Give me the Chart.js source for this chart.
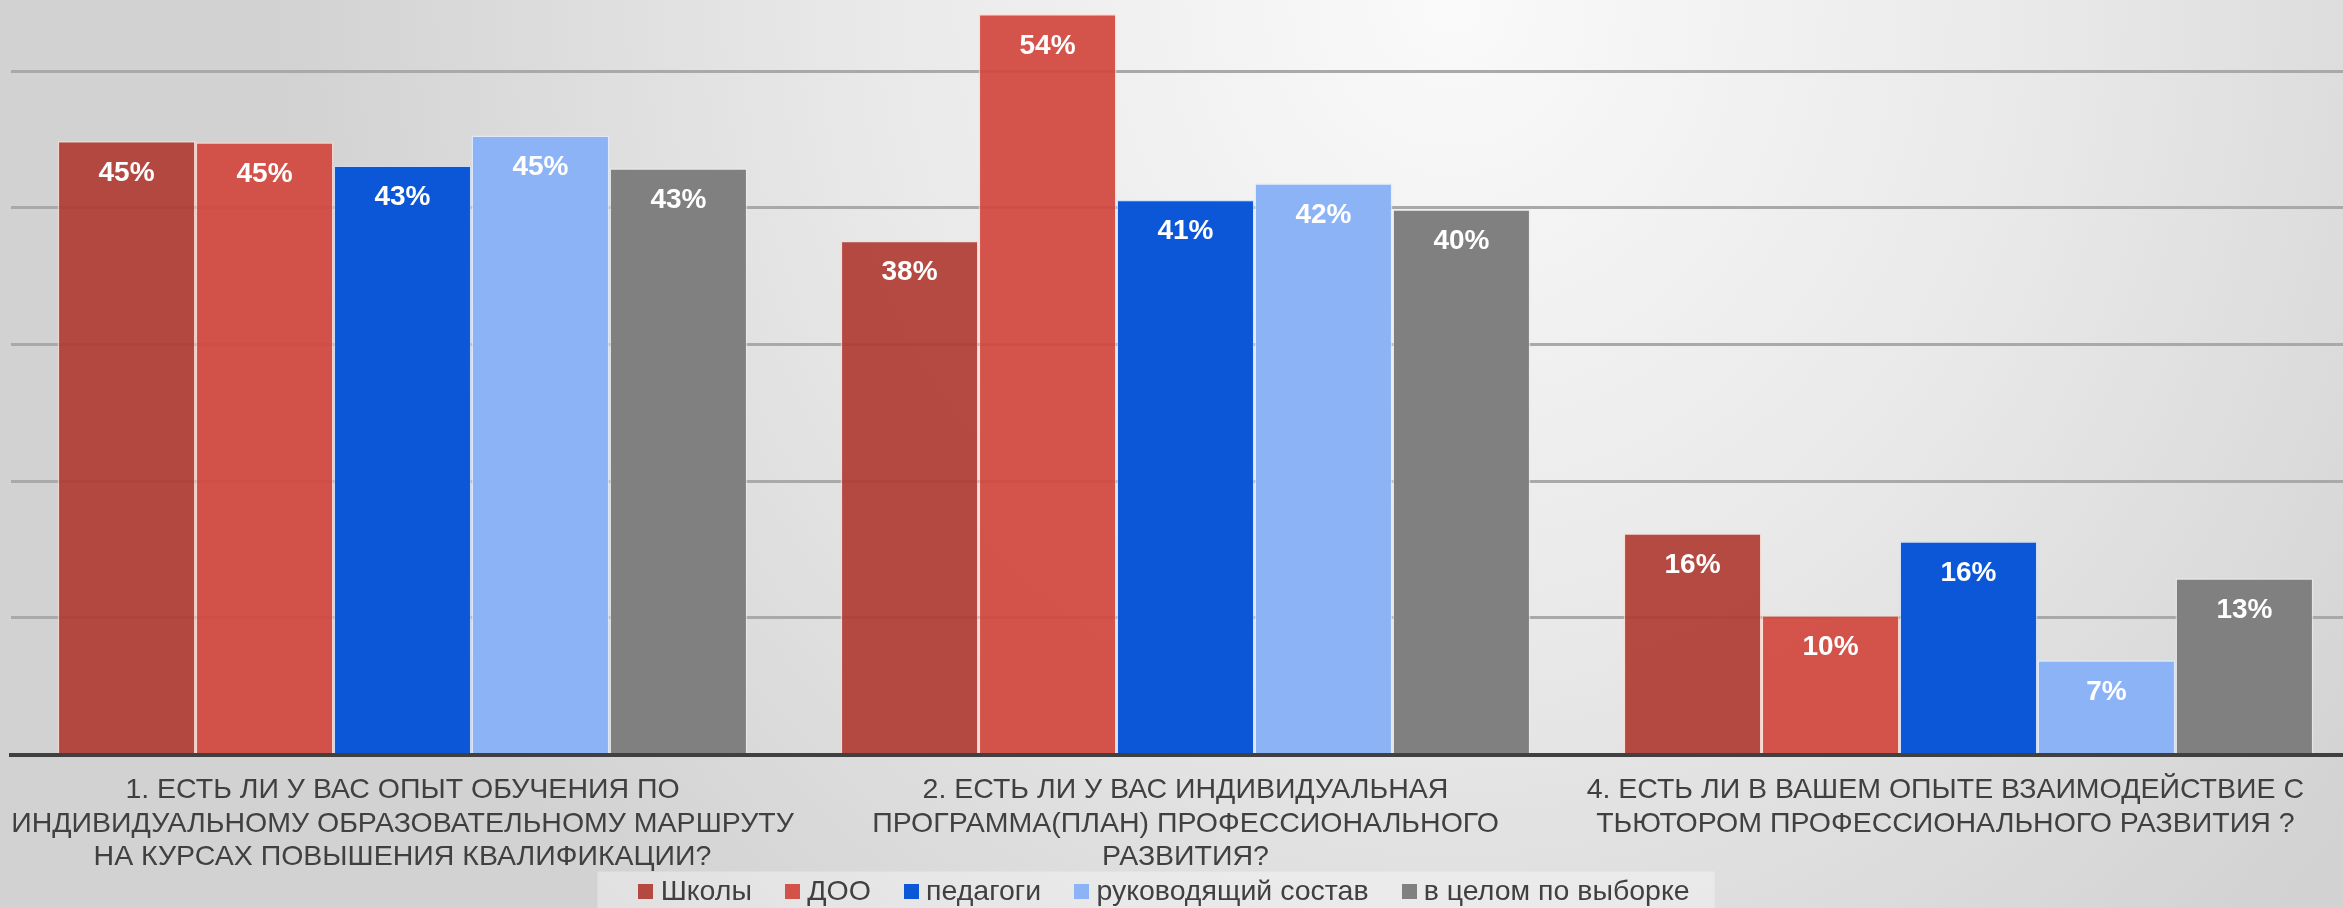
<!DOCTYPE html>
<html lang="ru">
<head>
<meta charset="utf-8">
<script src="https://cdn.jsdelivr.net/npm/chart.js@4.4.1/dist/chart.umd.min.js"></script>
<style>
  html, body { margin: 0; padding: 0; overflow: hidden; }
  body {
    width: 2343px; height: 908px;
    background: radial-gradient(ellipse 50% 140% at 62% 0%, #fafafa 0%, #e9e9e9 50%, #d2d2d2 100%);
  }
  #wrap { position: absolute; left: 0; top: 0; }
</style>
</head>
<body>
<div id="wrap"><canvas id="grafico" width="2362" height="908"></canvas></div>
<script>
// Вопросы анкеты (подписи категорий)
const categorias = [
    ['1. ЕСТЬ ЛИ У ВАС ОПЫТ ОБУЧЕНИЯ ПО', 'ИНДИВИДУАЛЬНОМУ ОБРАЗОВАТЕЛЬНОМУ МАРШРУТУ', 'НА КУРСАХ ПОВЫШЕНИЯ КВАЛИФИКАЦИИ?'],
    ['2. ЕСТЬ ЛИ У ВАС ИНДИВИДУАЛЬНАЯ', 'ПРОГРАММА(ПЛАН) ПРОФЕССИОНАЛЬНОГО', 'РАЗВИТИЯ?'],
    ['4. ЕСТЬ ЛИ В ВАШЕМ ОПЫТЕ ВЗАИМОДЕЙСТВИЕ С', 'ТЬЮТОРОМ ПРОФЕССИОНАЛЬНОГО РАЗВИТИЯ ?']
];

// Доли ответов, % (оценка по картинке)
const shkoly      = [44.9, 37.6, 16.2];
const doo         = [44.8, 54.2, 10.2];
const pedagogi    = [43.1, 40.6, 15.6];
const rukovod     = [45.3, 41.8, 6.9];
const vCelom      = [42.9, 39.9, 12.9];

const nomesSeries = ['Школы', 'ДОО', 'педагоги', 'руководящий состав', 'в целом по выборке'];
const valoresSeries = [shkoly, doo, pedagogi, rukovod, vCelom];

const cores = [
    'rgba(176, 60, 52, 0.92)',   // Школы
    'rgba(210, 72, 64, 0.93)',   // ДОО
    'rgb(11, 87, 216)',          // педагоги
    'rgb(141, 179, 247)',        // руководящий состав
    'rgb(128, 128, 128)'         // в целом
];
const coresBorda = [
    'rgba(255, 215, 205, 0.7)',
    'rgba(255, 215, 205, 0.7)',
    'rgba(200, 220, 255, 0.7)',
    'rgba(225, 235, 255, 0.8)',
    'rgba(235, 235, 235, 0.7)'
];

const fonte = "'Liberation Sans', Arial, sans-serif";
Chart.defaults.font.family = fonte;

// Маленький квадрат-маркер для легенды
function marcador(cor) {
    const c = document.createElement('canvas');
    c.width = 15; c.height = 15;
    const g = c.getContext('2d');
    g.fillStyle = cor;
    g.fillRect(0, 0, 15, 15);
    return c;
}

// Подписи значений внутри столбцов
const rotulosPlugin = {
    id: 'rotulos',
    afterDatasetsDraw(chart) {
        const ctx = chart.ctx;
        ctx.save();
        ctx.font = 'bold 28px ' + fonte;
        ctx.fillStyle = '#ffffff';
        ctx.textAlign = 'center';
        ctx.textBaseline = 'middle';
        chart.data.datasets.forEach((ds, i) => {
            chart.getDatasetMeta(i).data.forEach((bar, j) => {
                ctx.fillText(Math.round(ds.data[j]) + '%', bar.x, bar.y + 32);
            });
        });
        ctx.restore();
    }
};

// Подписи категорий под осью: по центру группы, но не вылезая за правый край окна
const categoriasPlugin = {
    id: 'categoriasTexto',
    afterDraw(chart) {
        const ctx = chart.ctx;
        const escala = chart.scales.x;
        const margemDir = 2343 - 39;
        ctx.save();
        ctx.font = '28.5px ' + fonte;
        ctx.fillStyle = '#404040';
        ctx.textAlign = 'center';
        ctx.textBaseline = 'middle';
        chart.data.labels.forEach((linhas, i) => {
            let x = escala.getPixelForTick(i);
            const larg = Math.max(...linhas.map(l => ctx.measureText(l).width));
            if (x + larg / 2 > margemDir) x = margemDir - larg / 2;
            linhas.forEach((linha, k) => {
                ctx.fillText(linha, x, chart.chartArea.bottom + 36 + k * 33.5);
            });
        });
        ctx.restore();
    }
};

// Легенда чуть левее центра холста (холст шире окна)
const ajusteLegenda = {
    id: 'ajusteLegenda',
    afterLayout(chart) {
        if (!chart.legend) return;
        chart.legend.left -= 18;
        chart.legend.right -= 18;
    }
};

// Светлая подложка под легендой
const fundoLegenda = {
    id: 'fundoLegenda',
    beforeDraw(chart) {
        const lg = chart.legend;
        if (!lg || !lg.legendHitBoxes || !lg.legendHitBoxes.length) return;
        const boxes = lg.legendHitBoxes;
        const esq = Math.min(...boxes.map(b => b.left)) - 48;
        const dir = Math.max(...boxes.map(b => b.left + b.width)) + 25;
        const topo = boxes[0].top - 6;
        const ctx = chart.ctx;
        ctx.save();
        ctx.fillStyle = 'rgba(255, 255, 255, 0.35)';
        ctx.fillRect(esq, topo, dir - esq, chart.height - topo);
        ctx.restore();
    }
};

const datasets = nomesSeries.map((nome, i) => ({
    label: nome,
    data: valoresSeries[i],
    backgroundColor: cores[i],
    borderColor: coresBorda[i],
    borderWidth: 1.5,
    borderSkipped: 'start',
    barPercentage: 1.0,
    categoryPercentage: 0.881
}));

new Chart(document.getElementById('grafico').getContext('2d'), {
    type: 'bar',
    data: { labels: categorias, datasets: datasets },
    plugins: [ajusteLegenda, fundoLegenda, rotulosPlugin, categoriasPlugin],
    options: {
        responsive: false,
        animation: false,
        layout: { padding: { left: 11, right: 2, top: 3, bottom: -8 } },
        plugins: {
            tooltip: { enabled: false },
            legend: {
                position: 'bottom',
                labels: {
                    color: '#404040',
                    font: { size: 28.5 },
                    usePointStyle: true,
                    boxWidth: 1,
                    boxHeight: 15,
                    padding: 40,
                    generateLabels(chart) {
                        const itens = Chart.defaults.plugins.legend.labels.generateLabels(chart);
                        itens.forEach((it, i) => { it.pointStyle = marcador(cores[i]); });
                        return itens;
                    }
                }
            }
        },
        scales: {
            x: {
                grid: { display: true, color: 'transparent', drawTicks: false },
                border: { display: true, color: '#404040', width: 4, z: 1 },
                ticks: { display: false },
                afterFit: escala => { escala.height = 83; }
            },
            y: {
                min: 0,
                max: 55,
                ticks: { display: false, stepSize: 10 },
                border: { display: false },
                grid: {
                    drawTicks: false,
                    lineWidth: 3,
                    color: c => (c.tick && c.tick.value > 0 && c.tick.value % 10 === 0) ? '#a9a9a9' : 'transparent'
                }
            }
        }
    }
});
</script>
</body>
</html>
